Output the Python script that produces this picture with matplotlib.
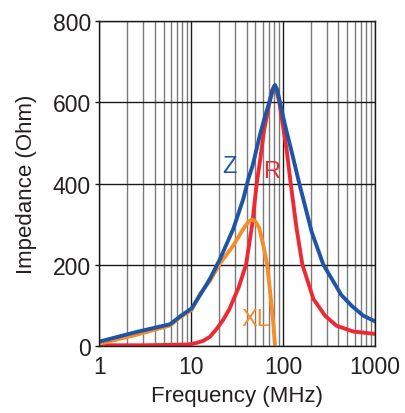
import numpy as np
import matplotlib.pyplot as plt
from matplotlib.ticker import LogLocator, NullFormatter, FixedLocator

plt.rcParams['font.family'] = ['Liberation Sans', 'DejaVu Sans']

# Impedance curves (frequency in MHz, value in Ohm)
z_freq = [1, 2.45, 5.9, 7.55, 10.1, 12.5, 16, 20.6, 28.7, 36.9, 41.8, 46.7, 56, 64, 72, 77, 81.6,
          86, 92.6, 100, 110, 124, 150, 205, 274, 430, 560, 746, 1000]
z_ohm = [10, 33, 53, 72, 92, 125, 165, 214, 288, 362, 411, 445, 520, 568, 605, 630, 643,
         632, 600, 565, 525, 478, 400, 280, 200, 125, 98, 74, 60]

r_freq = [1, 3, 6, 9.3, 11.5, 13.5, 16, 19, 22.5, 26, 33, 39.5, 46.2, 51.6, 56, 62, 71, 76, 80,
          85, 91, 100, 109, 121, 140, 162, 214, 286, 383, 580, 1000]
r_ohm = [1, 1, 2, 3, 7, 12, 22, 42, 65, 90, 145, 200, 300, 400, 455, 530, 600, 630, 640,
         628, 600, 540, 485, 400, 290, 200, 115, 74, 49, 35, 29]

xl_freq = [1, 2.45, 5.9, 7.55, 10.1, 12.5, 16, 20.2, 28.7, 36.9, 42, 45.5, 50, 55, 61, 67, 73, 78, 81.6]
xl_ohm = [5, 26, 50, 70, 88, 128, 160, 200, 247, 288, 306, 311, 306, 290, 247, 200, 123, 58, 0]

blue = '#1f55a6'
red = '#ec2a33'
orange = '#f58d2a'
txt = '#231f20'

fig = plt.figure(figsize=(4.06, 4.14), dpi=100)
ax = fig.add_axes([99.3 / 406, 1 - 346.7 / 414, 275.7 / 406, 324.4 / 414])

ax.set_xscale('log')
ax.set_xlim(1, 1000)
ax.set_ylim(0, 800)

# grid: gray minor verticals, black decades and horizontals
ax.xaxis.set_minor_locator(LogLocator(base=10, subs=np.arange(2, 10)))
ax.xaxis.set_minor_formatter(NullFormatter())
ax.grid(True, which='minor', axis='x', color='#7a7a7a', lw=1.0)
ax.grid(True, which='major', axis='x', color='#1a1a1a', lw=1.0)
ax.yaxis.set_major_locator(FixedLocator([0, 200, 400, 600, 800]))
ax.grid(True, which='major', axis='y', color='#1a1a1a', lw=1.0)
ax.set_axisbelow(True)

ax.plot(r_freq, r_ohm, color=red, lw=2.8, solid_joinstyle='round')
ax.plot(xl_freq, xl_ohm, color=orange, lw=2.8, solid_joinstyle='round', solid_capstyle='butt')
ax.plot(z_freq, z_ohm, color=blue, lw=2.8, solid_joinstyle='round')

ax.text(25.8, 443, 'Z', color=blue, fontsize=17, ha='center', va='center')
ax.text(75.7, 431, 'R', color=red, fontsize=17, ha='center', va='center')
ax.text(50.7, 66, 'XL', color=orange, fontsize=17, ha='center', va='center')

ax.set_xticks([1, 10, 100, 1000])
ax.set_xticklabels(['1', '10', '100', '1000'])
ax.tick_params(axis='both', which='major', labelsize=16.5, colors=txt, width=1, direction='out')
ax.tick_params(axis='x', which='both', length=0, pad=7)
ax.tick_params(axis='y', length=3, pad=3)
ax.tick_params(axis='both', labelcolor=txt, color='#1a1a1a')
for s in ax.spines.values():
    s.set_color('#1a1a1a')
    s.set_linewidth(1.0)

ax.set_xlabel('Frequency (MHz)', fontsize=16, color=txt, labelpad=5)
ax.set_ylabel('Impedance (Ohm)', fontsize=16, color=txt, labelpad=11)

fig.savefig('out.png', dpi=100)
